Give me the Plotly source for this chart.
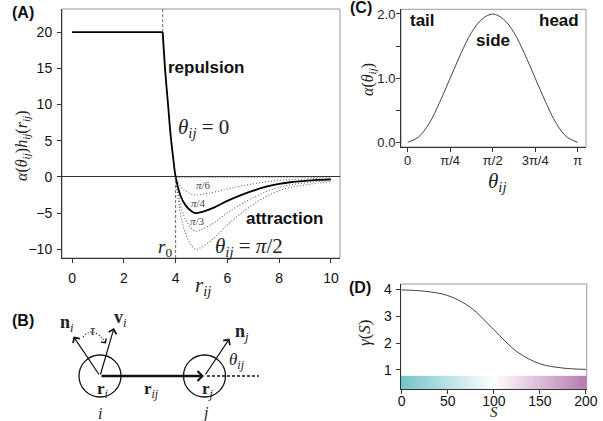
import plotly.graph_objects as go

W, H = 603, 421
SANS = "Liberation Sans, Arial, sans-serif"
SERIF = "Liberation Serif, DejaVu Serif, serif"

# ---------------- Panel A data ----------------
r_main = [3.5, 3.6, 3.7, 3.8, 3.9, 4.0, 4.2, 4.4, 4.6, 4.75, 5.0, 5.5, 6.0, 6.5, 7.0, 7.5, 8.0, 8.5, 9.0, 9.5, 10.0]
h_pi4 = [20, 14.5, 10.3, 6.0, 2.8, 0, -2.7, -4.0, -4.7, -5.0, -4.85, -4.2, -3.3, -2.55, -1.9, -1.35, -0.95, -0.7, -0.55, -0.42, -0.33]
r_flat = [0, 3.5]
h_flat = [20, 20]
r_att = [4.0, 4.2, 4.4, 4.6, 4.75, 5.0, 5.5, 6.0, 6.5, 7.0, 7.5, 8.0, 8.5, 9.0, 9.5, 10.0]
h_pi6 = [0, -1.35, -2.0, -2.35, -2.5, -2.43, -2.1, -1.65, -1.28, -0.95, -0.68, -0.48, -0.35, -0.28, -0.21, -0.17]
h_pi3 = [0, -4.05, -6.0, -7.05, -7.5, -7.28, -6.3, -4.95, -3.83, -2.85, -2.03, -1.43, -1.05, -0.83, -0.63, -0.5]
h_pi2 = [0, -5.4, -8.0, -9.4, -10.0, -9.7, -8.4, -6.6, -5.1, -3.8, -2.7, -1.9, -1.4, -1.1, -0.84, -0.66]
r_zero = [4.0, 10.0]
h_zero = [0, 0]
R_CUT = 3.5
R0 = 4.0
a_xticks = [0, 2, 4, 6, 8, 10]
a_yticks = [-10, -5, 0, 5, 10, 15, 20]

# ---------------- Panel C data ----------------
theta = [0, 0.196, 0.393, 0.589, 0.785, 0.982, 1.178, 1.374, 1.571,
         1.767, 1.963, 2.160, 2.356, 2.553, 2.749, 2.945, 3.142]
alpha = [0, 0.08, 0.29, 0.62, 1.0, 1.38, 1.71, 1.92, 2.0,
         1.92, 1.71, 1.38, 1.0, 0.62, 0.29, 0.08, 0]
c_xticks = [0, 0.785, 1.571, 2.356, 3.142]
c_xlabels = ["0", "π/4", "π/2", "3π/4", "π"]
c_yticks = [0, 0.5, 1.0, 1.5, 2.0]
c_ylabels = ["0.0", "", "1.0", "", "2.0"]

# ---------------- Panel D data ----------------
s_vals = [0, 25, 50, 75, 100, 125, 150, 175, 200]
gamma = [3.98, 3.93, 3.77, 3.32, 2.5, 1.68, 1.23, 1.07, 1.02]
d_xticks = [0, 50, 100, 150, 200]
d_yticks = [1, 2, 3, 4]
d_ylabels = ["1", "2", "3", "4"]
s_strip = list(range(0, 201, 2))
STRIP_Y = [0.29, 0.78]


def P(x, y):
    return x / W, 1 - y / H


fig = go.Figure()
DOT = "1px,2px"

# Panel A traces
for hv in (h_pi6, h_pi3, h_pi2):
    fig.add_trace(go.Scatter(x=r_att, y=hv, mode="lines",
                             line=dict(color="#666", width=1.1, dash=DOT, shape="spline"),
                             xaxis="x", yaxis="y"))
fig.add_trace(go.Scatter(x=r_zero, y=h_zero, mode="lines", line=dict(color="#444", width=1.4, dash=DOT), xaxis="x", yaxis="y"))
fig.add_trace(go.Scatter(x=r_flat, y=h_flat, mode="lines", line=dict(color="black", width=1.8), xaxis="x", yaxis="y"))
fig.add_trace(go.Scatter(x=r_main, y=h_pi4, mode="lines", line=dict(color="black", width=1.8, shape="spline", smoothing=0.8), xaxis="x", yaxis="y"))

# Panel C trace
fig.add_trace(go.Scatter(x=theta, y=alpha, mode="lines", line=dict(color="#444", width=1, shape="spline"), xaxis="x2", yaxis="y2"))

# Panel D traces
fig.add_trace(go.Heatmap(x=s_strip, y=STRIP_Y, z=[s_strip], showscale=False,
                         colorscale=[[0, "#74c4cb"], [0.5, "#ffffff"], [1, "#b77bb0"]],
                         xaxis="x3", yaxis="y3", hoverinfo="skip"))
fig.add_trace(go.Scatter(x=s_vals, y=gamma, mode="lines", line=dict(color="#444", width=1, shape="spline"), xaxis="x3", yaxis="y3"))

tf14 = dict(family=SANS, size=14, color="#111")
tf13 = dict(family=SANS, size=13, color="#222")
common = dict(showgrid=False, zeroline=False, showline=True, linecolor="#333", linewidth=1,
              ticks="outside", ticklen=4, tickcolor="#333", automargin=False)

x0a, _ = P(62, 0); x1a, _ = P(340, 0)
_, ya0 = P(0, 258); _, ya1 = P(0, 9)
x0c, _ = P(401, 0); x1c, _ = P(586, 0)
_, yc0 = P(0, 147); _, yc1 = P(0, 9.3)
x0d, _ = P(400.7, 0); x1d, _ = P(586.7, 0)
_, yd0 = P(0, 389); _, yd1 = P(0, 284)

fig.update_layout(
    width=W, height=H, autosize=False, template="none",
    margin=dict(l=0, r=0, t=0, b=0),
    paper_bgcolor="white", plot_bgcolor="rgba(0,0,0,0)",
    showlegend=False,
    xaxis=dict(domain=[x0a, x1a], range=[-0.39, 10.35], tickvals=a_xticks, anchor="y",
               tickfont=tf14, ticklabelstandoff=3, **common),
    yaxis=dict(domain=[ya0, ya1], range=[-11.2, 23.2], tickvals=a_yticks, anchor="x",
               tickfont=tf14, ticklabelstandoff=2,
               **{**common, "zeroline": True}, zerolinecolor="#333", zerolinewidth=1),
    xaxis2=dict(domain=[x0c, x1c], range=[-0.124, 3.295], tickvals=c_xticks, ticktext=c_xlabels, anchor="y2",
                tickfont=tf13, ticklabelstandoff=-3, **common),
    yaxis2=dict(domain=[yc0, yc1], range=[-0.073, 2.073], tickvals=c_yticks, ticktext=c_ylabels, anchor="x2",
                tickfont=tf13, ticklabelstandoff=-2, **common),
    xaxis3=dict(domain=[x0d, x1d], range=[-1.1, 200.8], tickvals=d_xticks, anchor="y3",
                tickfont=tf14, ticklabelstandoff=-5, **common),
    yaxis3=dict(domain=[yd0, yd1], range=[0.29, 4.2], tickmode="array", tickvals=d_yticks, ticktext=d_ylabels,
                anchor="x3", tickfont=tf14, ticklabelstandoff=1, ticklabeloverflow="allow", **common),
)

shapes = []
for xr, yr in [("x", "y"), ("x2", "y2"), ("x3", "y3")]:
    shapes.append(dict(type="rect", xref=xr + " domain", yref=yr + " domain", x0=0, x1=1, y0=0, y1=1,
                       line=dict(color="#999", width=1), fillcolor="rgba(0,0,0,0)", layer="below"))
shapes.append(dict(type="line", xref="x", yref="y", x0=R_CUT, x1=R_CUT, y0=20, y1=23.2,
                   line=dict(color="#666", width=1, dash="3px,2px")))
shapes.append(dict(type="line", xref="x", yref="y", x0=R0, x1=R0, y0=-11.2, y1=0,
                   line=dict(color="#666", width=1, dash="3px,2px")))


def circle(cx, cy, rad):
    xa, ya = P(cx - rad, cy + rad)
    xb, yb = P(cx + rad, cy - rad)
    return dict(type="circle", xref="paper", yref="paper", x0=xa, x1=xb, y0=ya, y1=yb,
                line=dict(color="#111", width=1.3), fillcolor="rgba(0,0,0,0)")


shapes.append(circle(100, 376, 21))
shapes.append(circle(204.5, 376, 21))
dx0, dy0 = P(207, 376); dx1, dy1 = P(259, 376)
shapes.append(dict(type="line", xref="paper", yref="paper", x0=dx0, x1=dx1, y0=dy0, y1=dy1,
                   line=dict(color="#111", width=1.3, dash="3px,2px")))
p0 = P(83, 337); pc = P(93, 325); p1 = P(105.5, 342.5)
shapes.append(dict(type="path", xref="paper", yref="paper",
                   path=f"M {p0[0]},{p0[1]} Q {pc[0]},{pc[1]} {p1[0]},{p1[1]}",
                   line=dict(color="#111", width=1.2, dash="1px,2px")))
fig.update_layout(shapes=shapes)

anns = []


def text(t, x, y, size, family=SERIF, color="#222", angle=0):
    px, py = P(x, y)
    anns.append(dict(text=t, x=px, y=py, xref="paper", yref="paper", showarrow=False,
                     xanchor="center", yanchor="middle", textangle=angle,
                     font=dict(family=family, size=size, color=color)))


def arrow(hx, hy, tx, ty, width=1.2, head=4, size=1.0):
    px, py = P(hx, hy)
    anns.append(dict(text="", x=px, y=py, xref="paper", yref="paper", showarrow=True,
                     ax=tx - hx, ay=ty - hy, axref="pixel", ayref="pixel",
                     arrowhead=head, arrowsize=size, arrowwidth=width, arrowcolor="#111",
                     standoff=0, startstandoff=0))


# Panel labels
text("<b>(A)</b>", 23, 13, 16, SANS, "#111")
text("<b>(B)</b>", 23, 320, 16, SANS, "#111")
text("<b>(C)</b>", 361, 8, 16, SANS, "#111")
text("<b>(D)</b>", 360, 287, 16, SANS, "#111")

# Panel A texts
text("<b>repulsion</b>", 206, 68, 17, SANS, "#111")
text("<b>attraction</b>", 284, 219, 17, SANS, "#111")
text("<i>θ</i><sub><i>ij</i></sub> = 0", 203, 128, 21)
text("<i>θ</i><sub><i>ij</i></sub> = <i>π</i>/2", 249, 247, 21)
text("<i>r</i><sub>0</sub>", 165, 248, 19)
text("<i>π</i>/6", 203, 185, 11, color="#444")
text("<i>π</i>/4", 198, 203, 11, color="#444")
text("<i>π</i>/3", 197, 221, 11, color="#444")
text("<i>α</i>(<i>θ</i><sub><i>ij</i></sub>)<i>h</i><sub><i>ij</i></sub>(<i>r</i><sub><i>ij</i></sub>)", 22, 146, 16, angle=-90)
text("<i>r</i><sub><i>ij</i></sub>", 203, 286, 21)

# Panel C texts
text("<b>tail</b>", 422, 21, 17, SANS, "#111")
text("<b>head</b>", 559, 21, 17, SANS, "#111")
text("<b>side</b>", 493, 41, 17, SANS, "#111")
text("<i>α</i>(<i>θ</i><sub><i>ij</i></sub>)", 369, 80, 16, angle=-90)
text("<i>θ</i><sub><i>ij</i></sub>", 497, 182, 21)

# Panel D texts
text("<i>γ</i>(<i>S</i>)", 364, 333, 17, angle=-90)
text("<i>S</i>", 494, 412, 15)

# Panel B arrows and labels
arrow(204, 376, 100, 376, width=2.4, head=4, size=0.8)
arrow(73.5, 336.5, 100, 376, width=1.2, head=4, size=1.3)
arrow(114, 328, 100, 376, width=1.2, head=4, size=1.3)
arrow(229.5, 338.5, 204.5, 376, width=1.2, head=4, size=1.3)
arrow(106, 343.5, 103.5, 340, width=1.0, head=4, size=1.2)

text("<b>n</b><sub><i>i</i></sub>", 67, 323, 18)
text("<i>τ</i>", 93, 330, 14)
text("<b>v</b><sub><i>i</i></sub>", 120, 318, 18)
text("<b>n</b><sub><i>j</i></sub>", 242, 332, 18)
text("<i>θ</i><sub><i>ij</i></sub>", 237, 361, 17)
text("<b>r</b><sub><i>i</i></sub>", 102, 390, 17)
text("<b>r</b><sub><i>ij</i></sub>", 151, 390, 17)
text("<b>r</b><sub><i>j</i></sub>", 208, 390, 17)
text("<i>i</i>", 100, 413, 16)
text("<i>j</i>", 205, 413, 16)

fig.update_layout(annotations=anns)
fig.write_html("out.html")
